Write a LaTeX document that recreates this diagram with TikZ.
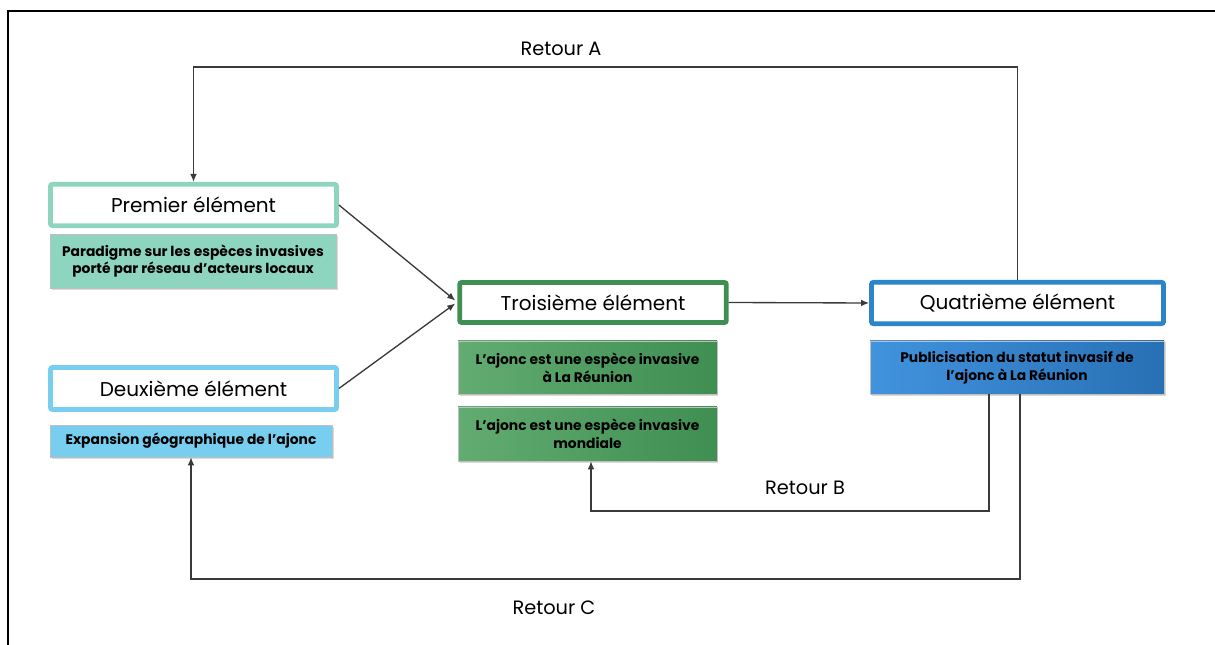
\documentclass[tikz,border=0pt]{standalone}
\usepackage{fontspec}
\setmainfont{Poppins}
\usetikzlibrary{calc}
\usetikzlibrary{arrows.meta}
\usetikzlibrary{shadows}
\definecolor{menthe}{HTML}{8ED5C0}
\definecolor{ciel}{HTML}{78CEEE}
\definecolor{vertfonce}{HTML}{3F8E52}
\definecolor{vertclair}{HTML}{62AC71}
\definecolor{bleufonce}{HTML}{2B85C8}
\definecolor{bleuclair}{HTML}{4193DE}
\definecolor{bleusombre}{HTML}{2870B4}
\definecolor{trait}{HTML}{3A3A3A}
\tikzset{
  titre/.style={draw, fill=white, line width=3.6pt, rounded corners=1.5pt, inner sep=0pt, font=\fontsize{15}{18}\selectfont},
  fiche/.style={draw=black!25, line width=0.4pt, inner sep=0pt, align=center, font=\fontsize{10.4}{13.2}\selectfont\bfseries, drop shadow={shadow xshift=1.2pt, shadow yshift=-1.2pt, opacity=0.3}},
  fleche/.style={draw=trait, line width=1pt, -{Latex[length=6pt,width=5pt]}},
  retour/.style={font=\fontsize{14.5}{17}\selectfont}
}

\begin{document}
\begin{tikzpicture}[x=0.75pt, y=-0.75pt]
		\useasboundingbox (0,0) rectangle (1215,645);
		% cadre
		\draw[line width=1.6pt] (8,645) -- (8,11) -- (1215,11);
		% elements
		\node[titre, draw=menthe, minimum width=214.5pt, minimum height=31pt] (premier) at (193.5,205) {Premier élément};
		\node[fiche, fill=menthe, minimum width=214.5pt, minimum height=40.5pt] (paradigme) at (193,261) {Paradigme sur les espèces invasives\\porté par réseau d'acteurs locaux};
		\node[titre, draw=ciel, minimum width=214.5pt, minimum height=31.5pt] (deuxieme) at (193.5,388.5) {Deuxième élément};
		\node[fiche, fill=ciel, minimum width=211.5pt, minimum height=24pt] (expansion) at (191,441) {Expansion géographique de l'ajonc};
		\node[titre, draw=vertfonce, minimum width=200pt, minimum height=30pt] (troisieme) at (593,302.5) {Troisième élément};
		\node[fiche, left color=vertclair, right color=vertfonce, minimum width=194pt, minimum height=40pt] (ajoncA) at (587.5,367.5) {L'ajonc est une espèce invasive\\à La Réunion};
		\node[fiche, left color=vertclair, right color=vertfonce, minimum width=194pt, minimum height=40.5pt] (ajoncB) at (587.5,434) {L'ajonc est une espèce invasive\\mondiale};
		\node[titre, draw=bleufonce, minimum width=219pt, minimum height=31pt] (quatrieme) at (1017.5,303) {Quatrième élément};
		\node[fiche, left color=bleuclair, right color=bleusombre, minimum width=220.5pt, minimum height=40pt] (publi) at (1017,367.5) {Publicisation du statut invasif de\\l'ajonc à La Réunion};
		% liens
		\draw[fleche] (premier.east) -- ($(troisieme.west)+(-2,-2)$);
		\draw[fleche] (deuxieme.east) -- ($(troisieme.west)+(-2,1)$);
		\draw[fleche] (troisieme.east) -- (quatrieme.west);
		% retours
		\coordinate (retA) at (600,67);
		\coordinate (retB) at (800,511);
		\coordinate (retC) at (600,579);
		\draw[fleche] (quatrieme.north) |- (retA) -| (premier.north);
		\draw[fleche] ($(publi.south)+(-28,0)$) |- (retB) -| ($(ajoncB.south)+(3.5,0)$);
		\draw[fleche] ($(publi.south)+(3,0)$) |- (retC) -| (expansion.south);
		\node[retour] (labelA) at (561,49) {Retour A};
		\node[retour] (labelB) at (805,488) {Retour B};
		\node[retour] (labelC) at (554,608) {Retour C};
		\end{tikzpicture}
\end{document}
